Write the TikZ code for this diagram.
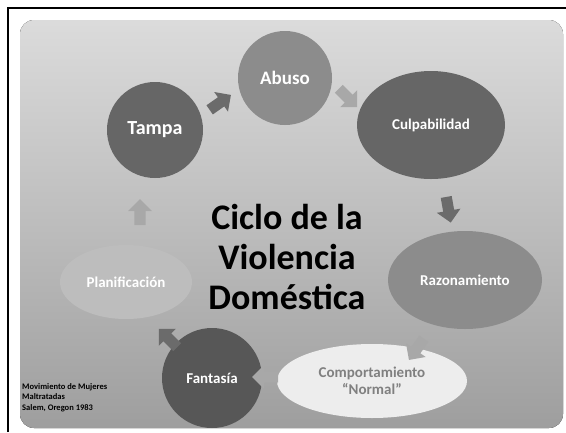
\documentclass[tikz,border=0pt]{standalone}
\usepackage{fontspec}
\setmainfont{Carlito}
\usetikzlibrary{shapes.geometric,shapes.arrows}
\definecolor{bgtop}{gray}{0.86}
\definecolor{bgbot}{gray}{0.62}
\definecolor{darkn}{gray}{0.40}
\definecolor{midn}{gray}{0.55}
\definecolor{lightn}{gray}{0.74}
\definecolor{palen}{gray}{0.93}
\definecolor{arrd}{gray}{0.42}
\definecolor{arrl}{gray}{0.66}
\begin{document}
\begin{tikzpicture}[x=1pt,y=-1pt,
  bub/.style={draw=none, inner sep=0pt, text=white, align=center,
    font=\bfseries\fontsize{15}{17}\selectfont},
  circ/.style 2 args={bub, circle, minimum size=#1, fill=#2},
  ell/.style n args={3}{bub, ellipse, minimum width=#1, minimum height=#2, fill=#3},
  blk/.style={single arrow, draw=none, fill=#1, minimum height=26pt,
    minimum width=24pt, inner sep=5pt, single arrow head extend=6pt},
  titlestyle/.style={align=center, text=black, inner sep=0pt,
    font=\bfseries\fontsize{36}{40}\selectfont},
  notestyle/.style={align=left, anchor=north west, inner sep=0pt, text=black,
    font=\bfseries\fontsize{8.5}{10.5}\selectfont}
]
\useasboundingbox (0,0) rectangle (566,432);
\fill[white] (0,0) rectangle (566,432);
% background panel
\fill[rounded corners=14pt, top color=bgtop, bottom color=bgbot]
  (20,20) rectangle (563,428);
% frame
\draw[line width=2pt] (8,432) -- (8,8) -- (566,8);

% stages
\node[circ={94pt}{midn}, font=\bfseries\fontsize{19}{21}\selectfont] (abuso) at (285,78) {Abuso};
\node[circ={96pt}{darkn}, font=\bfseries\fontsize{20}{22}\selectfont] (tampa) at (155,130) {Tampa};
\node[ell={148pt}{108pt}{darkn}] (culpa) at (431,125) {Culpabilidad};
\node[ell={154pt}{98pt}{midn}] (razon) at (465,280) {Razonamiento};
\node[ell={132pt}{74pt}{lightn}] (plan) at (126,282) {Planificación};
\node[circ={100pt}{darkn!85!black}] (fant) at (212,378) {Fantasía};
\node[ell={190pt}{74pt}{palen}, text=black!50] (comp) at (372,381) {Comportamiento\\“Normal”};

% block arrows between stages
\node[blk=arrd, rotate=35] (a1) at (218,104) {};
\node[blk=arrl, rotate=-45] (a2) at (346,96) {};
\node[blk=arrd, rotate=-80] (a3) at (448,207) {};
\node[blk=arrl, rotate=-125] (a4) at (418,347) {};
\node[blk=arrl, rotate=180] (a5) at (268,377) {};
\node[blk=arrd, rotate=135] (a6) at (170,340) {};
\node[blk=arrl, rotate=90] (a7) at (140,215) {};

% title
\node[titlestyle] (title) at (287,257) {Ciclo de la\\Violencia\\Doméstica};

% source note
\node[notestyle] (note) at (22,383) {Movimiento de Mujeres\\Maltratadas\\Salem, Oregon 1983};
\end{tikzpicture}
\end{document}
